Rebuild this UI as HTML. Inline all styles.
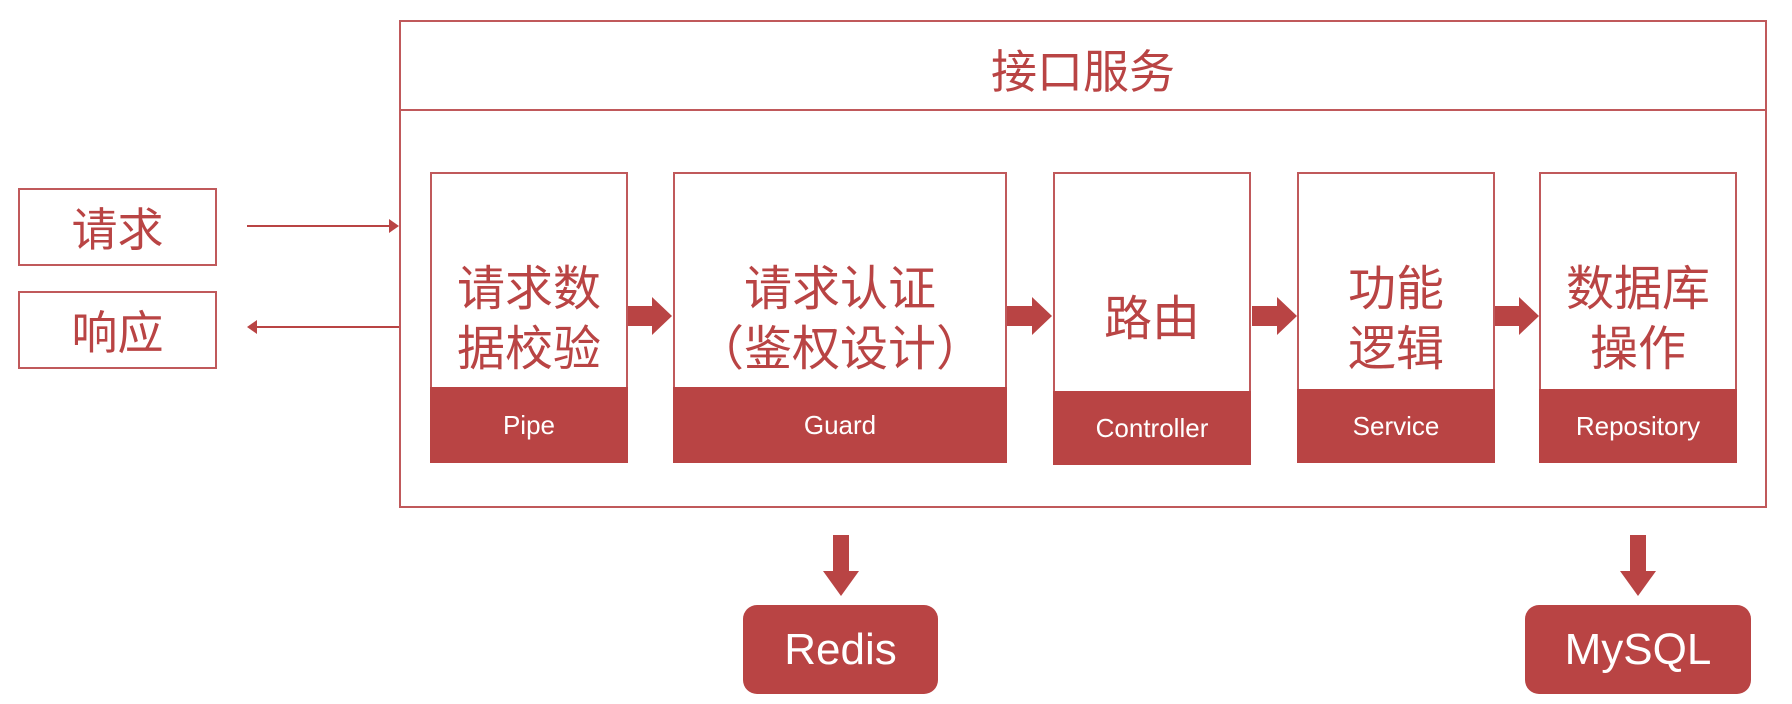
<!DOCTYPE html>
<html><head><meta charset="utf-8"><style>
body{margin:0;width:1792px;height:704px;background:#fff;position:relative;overflow:hidden;font-family:"Liberation Sans","Noto Sans CJK SC",sans-serif;color:#b94444}
.a{position:absolute;box-sizing:border-box}
.bx{border:2px solid #c0595b;background:#fff}
.t{display:flex;align-items:center;justify-content:center;text-align:center}
.red{background:#b94444;color:#fff}
.cj{font-size:48px;line-height:60px}
.lb{font-size:26px}
</style></head><body>
<div class="a bx" style="left:399px;top:20px;width:1368px;height:488px"></div>
<div class="a" style="left:399px;top:109px;width:1368px;height:2px;background:#c0595b"></div>
<div class="a t" style="left:399px;top:24px;width:1368px;height:90px;font-size:46px">接口服务</div>

<div class="a bx t" style="left:18px;top:188px;width:199px;height:78px;font-size:46px">请求</div>
<div class="a bx t" style="left:18px;top:291px;width:199px;height:78px;font-size:46px">响应</div>
<svg class="a" style="left:0;top:0" width="1792" height="704">
<g fill="#b94444" stroke="none">
<rect x="247" y="225" width="145" height="2"/><polygon points="399,226 389,219 389,233"/>
<rect x="255" y="326" width="144" height="2"/><polygon points="247,327 257,320 257,334"/>
<g id="ar"><rect x="627" y="306" width="27" height="20"/><polygon points="652,297 672,316 652,335"/></g>
<use href="#ar" x="380"/><use href="#ar" x="625" y="0"/><use href="#ar" x="867"/>
<rect x="833" y="535" width="16" height="38"/><polygon points="823,571 859,571 841,596"/>
<rect x="1630" y="535" width="16" height="38"/><polygon points="1620,571 1656,571 1638,596"/>
</g></svg>

<div class="a bx" style="left:430px;top:172px;width:198px;height:291px"></div>
<div class="a t cj" style="left:430px;top:172px;width:198px;height:296px">请求数<br>据校验</div>
<div class="a red t lb" style="left:430px;top:387px;width:198px;height:76px">Pipe</div>

<div class="a bx" style="left:673px;top:172px;width:334px;height:291px"></div>
<div class="a t cj" style="left:673px;top:172px;width:334px;height:296px">请求认证<br>（鉴权设计）</div>
<div class="a red t lb" style="left:673px;top:387px;width:334px;height:76px">Guard</div>

<div class="a bx" style="left:1053px;top:172px;width:198px;height:293px"></div>
<div class="a t cj" style="left:1053px;top:172px;width:198px;height:296px">路由</div>
<div class="a red t lb" style="left:1053px;top:391px;width:198px;height:74px">Controller</div>

<div class="a bx" style="left:1297px;top:172px;width:198px;height:291px"></div>
<div class="a t cj" style="left:1297px;top:172px;width:198px;height:296px">功能<br>逻辑</div>
<div class="a red t lb" style="left:1297px;top:389px;width:198px;height:74px">Service</div>

<div class="a bx" style="left:1539px;top:172px;width:198px;height:291px"></div>
<div class="a t cj" style="left:1539px;top:172px;width:198px;height:296px">数据库<br>操作</div>
<div class="a red t lb" style="left:1539px;top:389px;width:198px;height:74px">Repository</div>

<div class="a red t" style="left:743px;top:605px;width:195px;height:89px;border-radius:14px;font-size:44px">Redis</div>
<div class="a red t" style="left:1525px;top:605px;width:226px;height:89px;border-radius:14px;font-size:44px">MySQL</div>
</body></html>
